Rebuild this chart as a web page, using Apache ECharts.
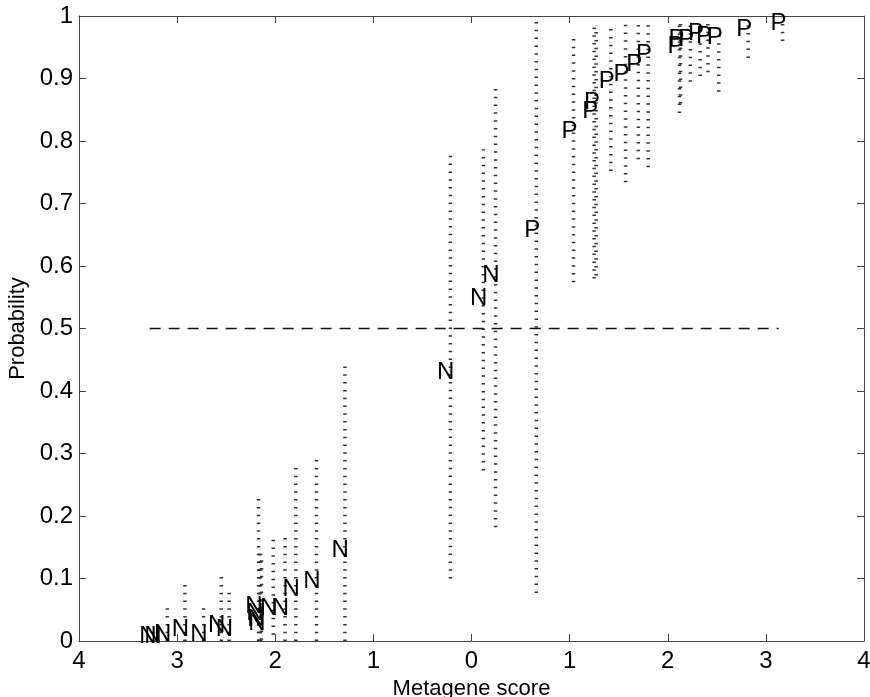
<!DOCTYPE html>
<html>
<head>
<meta charset="utf-8">
<style>
  html, body { margin: 0; padding: 0; background: #fff; }
  #chart { width: 870px; height: 697px; }
</style>
<script src="https://cdn.jsdelivr.net/npm/echarts@6/dist/echarts.min.js"></script>
</head>
<body>
<div id="chart"></div>
<script>
// N samples: metagene score, predicted probability, interval low / high
var nScore = [-3.25, -3.20, -3.10, -2.92, -2.73, -2.55, -2.47, -2.17, -2.16, -2.15, -2.14, -2.02, -1.90, -1.79, -1.58, -1.29, -0.215, 0.12, 0.245];
var nProb  = [0.008, 0.008, 0.010, 0.018, 0.010, 0.025, 0.018, 0.055, 0.045, 0.035, 0.028, 0.052, 0.052, 0.082, 0.095, 0.145, 0.43, 0.548, 0.585];
var nLow   = [0, 0, 0, 0, 0, 0, 0, 0, 0, 0, 0.002, 0.01, 0, 0, 0, 0, 0.10, 0.273, 0.182];
var nHigh  = [0.02, 0.025, 0.055, 0.092, 0.055, 0.104, 0.078, 0.23, 0.145, 0.14, 0.13, 0.166, 0.168, 0.281, 0.296, 0.445, 0.78, 0.787, 0.888];

// P samples
var pScore = [0.66, 1.04, 1.25, 1.27, 1.42, 1.57, 1.70, 1.80, 2.12, 2.13, 2.23, 2.33, 2.41, 2.52, 2.82, 3.17];
var pProb  = [0.657, 0.816, 0.848, 0.862, 0.896, 0.906, 0.923, 0.939, 0.952, 0.962, 0.962, 0.972, 0.968, 0.966, 0.979, 0.988];
var pLow   = [0.077, 0.574, 0.58, 0.585, 0.752, 0.734, 0.771, 0.758, 0.845, 0.86, 0.895, 0.904, 0.91, 0.879, 0.933, 0.96];
var pHigh  = [0.995, 0.968, 0.984, 0.985, 0.98, 0.988, 0.988, 0.988, 0.987, 0.99, 0.985, 0.988, 0.988, 0.99, 0.992, 0.998];

// 0.5 threshold line
var cutX = [-3.28, 3.13];
var cutY = 0.5;

var fontFam = '"Liberation Sans", Arial, Helvetica, sans-serif';

function zip(a, b, c) {
    return a.map(function (v, i) { return c ? [v, b[i], c[i]] : [v, b[i]]; });
}

var barData = zip(nScore, nLow, nHigh).concat(zip(pScore, pLow, pHigh));
var nPts = zip(nScore, nProb);
var pPts = zip(pScore, pProb);

function renderBar(params, api) {
    var lo = api.coord([api.value(0), api.value(1)]);
    var hi = api.coord([api.value(0), api.value(2)]);
    return {
        type: 'line',
        shape: { x1: lo[0], y1: lo[1], x2: hi[0], y2: hi[1] },
        style: { stroke: '#333', lineWidth: 3.5, lineDash: [1.5, 6.3] }
    };
}

function labelRenderer(ch) {
    return function (params, api) {
        var p = api.coord([api.value(0), api.value(1)]);
        return {
            type: 'text',
            x: p[0] + 4,
            y: p[1],
            style: {
                text: ch,
                align: 'right',
                verticalAlign: 'middle',
                fontSize: 24,
                fontFamily: fontFam,
                fill: '#000'
            }
        };
    };
}

var axisLineStyle = { color: '#444', width: 1 };

var option = {
    animation: false,
    backgroundColor: '#fff',
    grid: { left: 79, right: 6, top: 16, bottom: 56, containLabel: false, outerBoundsMode: 'none' },
    xAxis: [{
        type: 'value', min: -4, max: 4, interval: 1,
        axisLine: { show: true, onZero: false, lineStyle: axisLineStyle },
        axisTick: { show: true, inside: true, length: 7, lineStyle: axisLineStyle },
        splitLine: { show: false },
        axisLabel: {
            color: '#000', fontSize: 24, fontFamily: fontFam, margin: 8,
            formatter: function (v) { return String(Math.abs(v)); }
        },
        name: 'Metagene score', nameLocation: 'middle', nameGap: 35,
        nameTextStyle: { color: '#000', fontSize: 22, fontFamily: fontFam }
    }, {
        type: 'value', position: 'top', min: -4, max: 4, interval: 1,
        axisLine: { show: true, onZero: false, lineStyle: axisLineStyle },
        axisTick: { show: true, inside: true, length: 7, lineStyle: axisLineStyle },
        axisLabel: { show: false }, splitLine: { show: false }
    }],
    yAxis: [{
        type: 'value', min: 0, max: 1, interval: 0.1,
        axisLine: { show: true, onZero: false, lineStyle: axisLineStyle },
        axisTick: { show: true, inside: true, length: 7, lineStyle: axisLineStyle },
        splitLine: { show: false },
        axisLabel: {
            color: '#000', fontSize: 24, fontFamily: fontFam, margin: 6,
            formatter: function (v) { return (v === 0 || v === 1) ? String(v) : v.toFixed(1); }
        },
        name: 'Probability', nameLocation: 'middle', nameGap: 49,
        nameTextStyle: { color: '#000', fontSize: 22, fontFamily: fontFam }
    }, {
        type: 'value', position: 'right', min: 0, max: 1, interval: 0.1,
        axisLine: { show: true, onZero: false, lineStyle: axisLineStyle },
        axisTick: { show: true, inside: true, length: 7, lineStyle: axisLineStyle },
        axisLabel: { show: false }, splitLine: { show: false }
    }],
    series: [{
        type: 'line',
        data: cutX.map(function (x) { return [x, cutY]; }),
        symbol: 'none',
        lineStyle: { color: '#111', width: 1.6, type: [11, 8] },
        z: 2
    }, {
        type: 'custom',
        renderItem: renderBar,
        data: barData,
        clip: false,
        z: 3
    }, {
        type: 'custom',
        renderItem: labelRenderer('N'),
        data: nPts,
        clip: false,
        z: 4
    }, {
        type: 'custom',
        renderItem: labelRenderer('P'),
        data: pPts,
        clip: false,
        z: 4
    }]
};

var chart = echarts.init(document.getElementById('chart'));
chart.setOption(option);
</script>
</body>
</html>
